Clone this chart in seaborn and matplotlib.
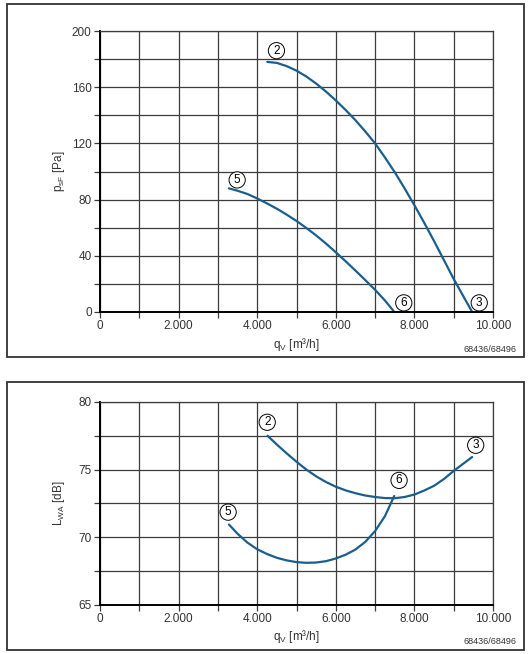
import matplotlib
matplotlib.use("Agg")
import matplotlib.pyplot as plt
from matplotlib.patches import Rectangle
import seaborn as sns

# ---- data ----
top_q2 = [4256, 4500, 4750, 5000, 5250, 5500, 5750, 6000, 6250, 6500, 6750, 7000,
          7250, 7500, 7750, 8000, 8250, 8500, 8750, 9000, 9250, 9470]
top_p2 = [178, 177.3, 175, 171.8, 167.6, 162.6, 156.9, 150.6, 143.8, 136.5, 128.5, 120,
          110, 99.5, 88, 76, 63.5, 50.5, 37, 23.5, 11, 0]
top_q5 = [3281, 3500, 3750, 4000, 4250, 4500, 4750, 5000, 5250, 5500, 5750, 6000,
          6250, 6500, 6750, 7000, 7250, 7490]
top_p5 = [88, 86.3, 84, 80.8, 77.3, 73.5, 69.3, 64.8, 59.8, 54.5, 48.7, 42.5,
          36.1, 29.5, 22.7, 15.8, 8.2, 0]

bot_q2 = [4265, 4500, 4750, 5000, 5250, 5500, 5750, 6000, 6250, 6500, 6750, 7000,
          7250, 7500, 7750, 8000, 8250, 8500, 8750, 9000, 9250, 9470]
bot_l2 = [77.5, 76.85, 76.2, 75.58, 75.0, 74.5, 74.08, 73.73, 73.46, 73.25, 73.08, 72.97,
          72.89, 72.88, 72.97, 73.15, 73.45, 73.8, 74.3, 74.9, 75.45, 75.93]
bot_q5 = [3282, 3500, 3750, 4000, 4250, 4500, 4750, 5000, 5250, 5500, 5750, 6000,
          6250, 6500, 6750, 7000, 7250, 7487]
bot_l5 = [70.93, 70.25, 69.6, 69.1, 68.75, 68.47, 68.28, 68.15, 68.1, 68.12, 68.22, 68.42,
          68.7, 69.08, 69.65, 70.45, 71.55, 73.05]

top_labels = [("2", 4490, 186), ("5", 3490, 94), ("6", 7730, 6.5), ("3", 9650, 6.5)]
bot_labels = [("2", 4255, 78.5), ("3", 9560, 76.8), ("6", 7610, 74.2), ("5", 3260, 71.85)]

x_ticks = list(range(0, 10001, 1000))
x_ticklabels = ["0", "", "2.000", "", "4.000", "", "6.000", "", "8.000", "", "10.000"]
top_yticks = list(range(0, 201, 20))
top_yticklabels = ["0", "", "40", "", "80", "", "120", "", "160", "", "200"]
bot_yticks = [65, 67.5, 70, 72.5, 75, 77.5, 80]
bot_yticklabels = ["65", "", "70", "", "75", "", "80"]

# ---- style ----
sns.set_style("white")
plt.rcParams["font.family"] = ["Liberation Sans", "DejaVu Sans"]
plt.rcParams["mathtext.fontset"] = "custom"
plt.rcParams["mathtext.rm"] = "Liberation Sans"
plt.rcParams["mathtext.it"] = "Liberation Sans:italic"

W, H = 532, 654
fig = plt.figure(figsize=(W / 100, H / 100), dpi=100)
fig.patch.set_facecolor("white")

curve_color = "#1b5e8e"
grid_color = "#3c3c3c"
text_color = "#333333"


def fx(px):
    return px / W


def fy(py):
    return 1 - py / H


def setup(ax, yticks, yticklabels, ylim, ylabel, lab_y):
    ax.set_xlim(0, 10000)
    ax.set_ylim(*ylim)
    ax.set_xticks(x_ticks)
    ax.set_xticklabels(x_ticklabels)
    ax.set_yticks(yticks)
    ax.set_yticklabels(yticklabels)
    ax.grid(True, color=grid_color, lw=0.9)
    ax.tick_params(axis="both", which="major", direction="out", length=4,
                   width=0.9, color=grid_color, labelsize=8.5,
                   labelcolor=text_color, pad=2, left=True, bottom=True)
    for s in ["top", "right"]:
        ax.spines[s].set_color(grid_color)
        ax.spines[s].set_linewidth(0.9)
    for s in ["left", "bottom"]:
        ax.spines[s].set_color("black")
        ax.spines[s].set_linewidth(1.4)
    ax.set_xlabel(r"q$_\mathrm{V}$ [m³/h]", fontsize=8.5, color=text_color)
    ax.set_ylabel(ylabel, fontsize=8.5, color=text_color)
    ax.yaxis.set_label_coords(-0.084, 0.5)
    ax.xaxis.set_label_coords(0.5, lab_y)


def circ(ax, labels):
    for t, x, y in labels:
        ax.text(x, y, t, ha="center", va="center", fontsize=8.5, color="black",
                bbox=dict(boxstyle="circle,pad=0.18", fc="white", ec="black", lw=0.7),
                zorder=5)


# top panel
ax1 = fig.add_axes([fx(100), fy(312), fx(493) - fx(100), fy(31) - fy(312)])
sns.lineplot(x=top_q2, y=top_p2, ax=ax1, color=curve_color, lw=1.6, sort=False, estimator=None)
sns.lineplot(x=top_q5, y=top_p5, ax=ax1, color=curve_color, lw=1.6, sort=False, estimator=None)
setup(ax1, top_yticks, top_yticklabels, (0, 200), r"p$_\mathrm{sF}$ [Pa]", -0.085)
circ(ax1, top_labels)

# bottom panel
ax2 = fig.add_axes([fx(100), fy(604.7), fx(493) - fx(100), fy(402) - fy(604.7)])
sns.lineplot(x=bot_q2, y=bot_l2, ax=ax2, color=curve_color, lw=1.6, sort=False, estimator=None)
sns.lineplot(x=bot_q5, y=bot_l5, ax=ax2, color=curve_color, lw=1.6, sort=False, estimator=None)
setup(ax2, bot_yticks, bot_yticklabels, (65, 80), r"L$_\mathrm{WA}$ [dB]", -0.115)
circ(ax2, bot_labels)

# frames
fig.patches.append(Rectangle((fx(7), fy(357)), fx(524) - fx(7), fy(4) - fy(357),
                             transform=fig.transFigure, fill=False, ec="#333333", lw=1.3))
fig.patches.append(Rectangle((fx(7), fy(650)), fx(524) - fx(7), fy(382) - fy(650),
                             transform=fig.transFigure, fill=False, ec="#333333", lw=1.3))

fig.text(fx(516), fy(349), "68436/68496", ha="right", va="center", fontsize=6.5, color=text_color)
fig.text(fx(516), fy(642), "68436/68496", ha="right", va="center", fontsize=6.5, color=text_color)

fig.savefig("out.png", dpi=100, facecolor="white")
